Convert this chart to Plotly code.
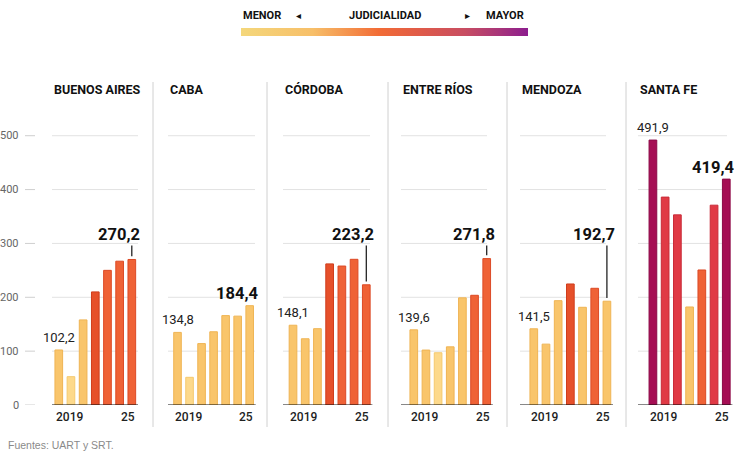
import plotly.graph_objects as go

W, H = 734, 463

regions = ["BUENOS AIRES", "CABA", "CÓRDOBA", "ENTRE RÍOS", "MENDOZA", "SANTA FE"]
years = ["2019", "2020", "2021", "2022", "2023", "2024", "2025"]

buenos_aires = [102.2, 52.6, 158.0, 210.0, 250.0, 267.0, 270.2]
caba = [134.8, 51.4, 114.0, 136.0, 166.0, 165.0, 184.4]
cordoba = [148.1, 123.0, 141.7, 262.0, 258.0, 270.5, 223.2]
entre_rios = [139.6, 102.0, 97.0, 108.0, 199.0, 203.7, 271.8]
mendoza = [141.5, 113.0, 193.7, 224.7, 181.4, 216.7, 192.7]
santa_fe = [491.9, 386.0, 353.0, 182.0, 250.7, 371.0, 419.4]
series = [buenos_aires, caba, cordoba, entre_rios, mendoza, santa_fe]

# judicialidad level of each bar (0 = menor ... 5 = mayor)
lvl_ba = [1, 0, 1, 3, 2, 2, 2]
lvl_caba = [1, 0, 1, 1, 1, 1, 1]
lvl_cba = [1, 1, 1, 3, 2, 2, 2]
lvl_er = [1, 1, 0, 1, 1, 2, 2]
lvl_mza = [1, 1, 1, 3, 1, 2, 1]
lvl_sf = [5, 4, 4, 1, 2, 4, 5]
levels = [lvl_ba, lvl_caba, lvl_cba, lvl_er, lvl_mza, lvl_sf]

# whether the last-value label is lifted with a leader line
lifted = [True, False, True, True, True, False]

yticks = [0, 100, 200, 300, 400, 500]

level_fill = ["#fdd98b", "#f9c56b", "#ef6236", "#e6502a", "#e03a45", "#a50e54"]
level_edge = ["#f5c96e", "#efb454", "#dc4a26", "#cf3d1c", "#c92a37", "#8c0a47"]

grad_scale = [[0.0, "#f4d77b"], [0.25, "#f7bf69"], [0.48, "#f26c36"],
              [0.62, "#e05b48"], [0.78, "#c84d62"], [0.9, "#a8357a"], [1.0, "#8c1d8e"]]

# layout in pixels
bar_px = [(52.7, 137.9), (171.5, 255.7), (286.9, 372.4), (407.7, 492.8), (527.7, 613.0), (646.8, 732.4)]
grid_px = [(52, 138), (168, 255), (283, 370), (401, 487), (520, 606), (638, 727)]
sep_px = [153, 267, 388, 507, 626]
y0_px, px_per_unit = 405, 0.5386
YMAX = 560
ydom = [(H - y0_px) / H, (H - (y0_px - YMAX * px_per_unit)) / H]

def fmt(v):
    return f"{v:.1f}".replace(".", ",")

def py(p):
    return (H - p) / H

fig = go.Figure()
annotations = []
shapes = []
FONT = "Roboto"

for i, (name, vals, lv) in enumerate(zip(regions, series, levels)):
    k = "" if i == 0 else str(i + 1)
    xa, ya = "x" + k, "y" + k
    fig.add_trace(go.Bar(
        x=list(range(len(vals))), y=vals, xaxis=xa, yaxis=ya,
        marker=dict(color=[level_fill[l] for l in lv],
                    line=dict(color=[level_edge[l] for l in lv], width=1)),
        hoverinfo="skip", showlegend=False,
    ))
    l, r = bar_px[i]
    gl, gr = grid_px[i]
    fig.layout["xaxis" + k] = dict(
        domain=[l / W, r / W], range=[-0.5, len(vals) - 0.5], anchor=ya,
        showticklabels=False, showgrid=False, zeroline=False, showline=False, fixedrange=True,
    )
    fig.layout["yaxis" + k] = dict(
        domain=ydom, range=[0, YMAX], anchor=xa, showticklabels=False,
        showgrid=False, zeroline=False, fixedrange=True,
    )
    # gridlines
    for t in yticks[1:]:
        shapes.append(dict(type="line", xref="paper", yref=ya, x0=gl / W, x1=gr / W, y0=t, y1=t,
                           layer="below", line=dict(color="#e2e2e2", width=1)))
    # baseline
    shapes.append(dict(type="line", xref="paper", yref=ya, x0=gl / W, x1=max(gr, r) / W, y0=0, y1=0,
                       layer="above", line=dict(color="#111", width=1)))
    # panel title
    annotations.append(dict(text=f"<b>{name}</b>", xref="paper", yref="paper",
                            x=gl / W, y=py(89), xanchor="left", yanchor="middle",
                            showarrow=False, font=dict(family=FONT, size=12.5, color="#111")))
    # year labels
    annotations.append(dict(text=years[0], xref=xa, yref="paper", x=0, y=py(417),
                            xanchor="left", yanchor="middle", xshift=-5, showarrow=False,
                            font=dict(family=FONT, size=12, color="#222", weight=500)))
    annotations.append(dict(text=years[-1][2:], xref=xa, yref="paper", x=len(vals) - 1, y=py(417),
                            xanchor="right", yanchor="middle", xshift=5, showarrow=False,
                            font=dict(family=FONT, size=12, color="#222", weight=500)))
    # first value label
    annotations.append(dict(text=fmt(vals[0]), xref=xa, yref=ya, x=0, y=vals[0],
                            xanchor="center", yanchor="bottom", yshift=3, showarrow=False,
                            font=dict(family=FONT, size=13, color="#222")))
    # last value label
    last = vals[-1]
    ly = 294 if lifted[i] else last
    annotations.append(dict(text=f"<b>{fmt(last)}</b>", xref=xa, yref=ya, x=len(vals) - 1, y=ly,
                            xanchor="right", yanchor="middle", xshift=10, yshift=12, showarrow=False,
                            font=dict(family=FONT, size=16.5, color="#111")))
    if lifted[i]:
        shapes.append(dict(type="line", xref=xa, yref=ya, x0=len(vals) - 1, x1=len(vals) - 1,
                           y0=last + 6, y1=296, line=dict(color="#111", width=1.2)))

# left y-axis labels and stubs
for t in yticks:
    annotations.append(dict(text=str(t), xref="paper", yref="y", x=21 / W, y=t,
                            xanchor="right", yanchor="middle", showarrow=False,
                            font=dict(family=FONT, size=11, color="#666")))
    shapes.append(dict(type="line", xref="paper", yref="y", x0=25 / W, x1=35 / W, y0=t, y1=t,
                       line=dict(color="#cfcfcf", width=1)))

# separators
for s in sep_px:
    shapes.append(dict(type="line", xref="paper", yref="paper", x0=s / W, x1=s / W,
                       y0=py(427), y1=py(82), line=dict(color="#d0d0d0", width=1)))

# legend header
lg = dict(family=FONT, size=11, color="#111")
annotations += [
    dict(text="<b>MENOR</b>", xref="paper", yref="paper", x=241 / W, y=py(16),
         xanchor="left", yanchor="middle", showarrow=False, font=lg),
    dict(text="◂", xref="paper", yref="paper", x=298 / W, y=py(16),
         xanchor="center", yanchor="middle", showarrow=False, font=dict(family="DejaVu Sans", size=10, color="#111")),
    dict(text="<b>JUDICIALIDAD</b>", xref="paper", yref="paper", x=384.5 / W, y=py(16),
         xanchor="center", yanchor="middle", showarrow=False, font=lg),
    dict(text="▸", xref="paper", yref="paper", x=467 / W, y=py(16),
         xanchor="center", yanchor="middle", showarrow=False, font=dict(family="DejaVu Sans", size=10, color="#111")),
    dict(text="<b>MAYOR</b>", xref="paper", yref="paper", x=526 / W, y=py(16),
         xanchor="right", yanchor="middle", showarrow=False, font=lg),
    dict(text="Fuentes: UART y SRT.", xref="paper", yref="paper", x=6 / W, y=py(445),
         xanchor="left", yanchor="middle", showarrow=False,
         font=dict(family="Liberation Sans", size=10.5, color="#8a8a8a")),
]

# gradient bar (colorbar of an invisible marker)
fig.add_trace(go.Scatter(
    x=[0], y=[0], xaxis="x", yaxis="y", mode="markers", hoverinfo="skip", showlegend=False,
    marker=dict(size=1, opacity=0, color=[0], cmin=0, cmax=1, colorscale=grad_scale,
                showscale=True,
                colorbar=dict(orientation="h", x=(241 + 528) / 2 / W, xanchor="center",
                              y=py(32), yanchor="middle", len=287, lenmode="pixels",
                              thickness=8, thicknessmode="pixels", outlinewidth=0,
                              showticklabels=False, ticks="", xpad=0, ypad=0)),
))

fig.update_layout(
    width=W, height=H, margin=dict(l=0, r=0, t=0, b=0),
    paper_bgcolor="white", plot_bgcolor="rgba(0,0,0,0)",
    bargap=0.37, annotations=annotations, shapes=shapes,
    font=dict(family=FONT),
)

fig.write_html("out.html", config={"displayModeBar": False})
